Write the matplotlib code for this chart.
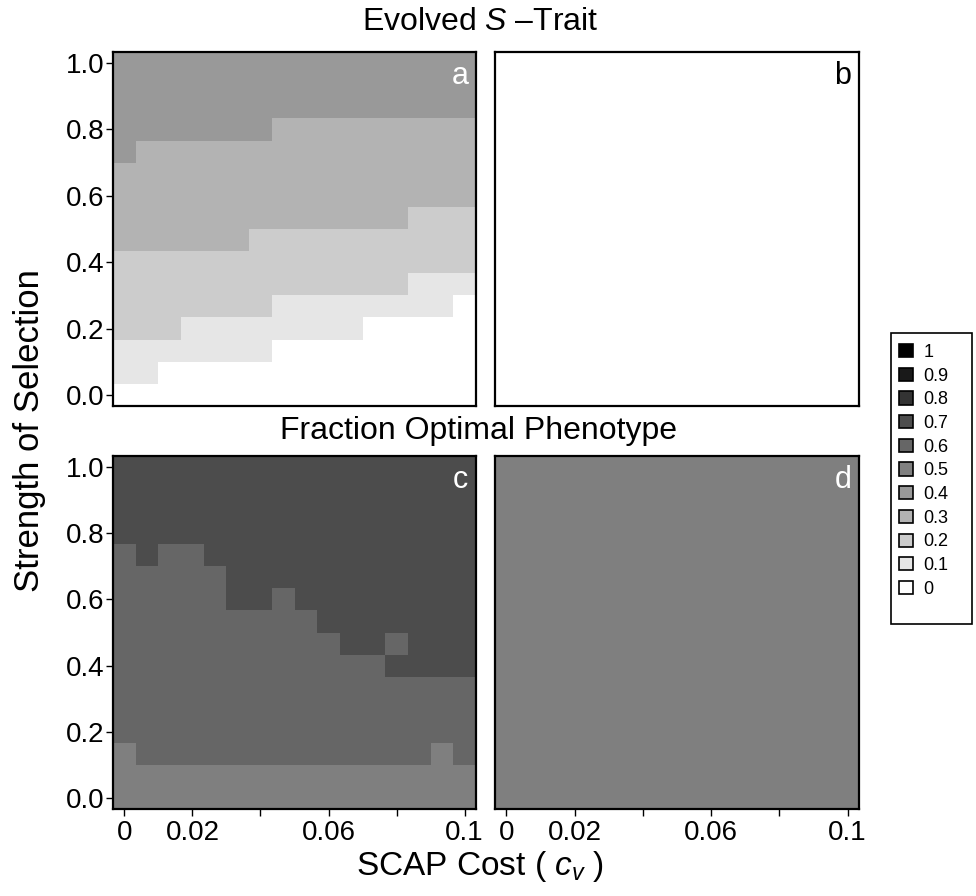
import numpy as np
import matplotlib
matplotlib.use("Agg")
import matplotlib.pyplot as plt
from matplotlib.patches import Patch, Rectangle

plt.rcParams['font.family'] = ['Liberation Sans', 'DejaVu Sans']
plt.rcParams['mathtext.fontset'] = 'custom'
plt.rcParams['mathtext.rm'] = 'Liberation Sans'
plt.rcParams['mathtext.it'] = 'Liberation Sans:italic'

# grid of parameter values (cell centres)
cost_values = [0.0, 0.00667, 0.01333, 0.02, 0.02667, 0.03333, 0.04, 0.04667,
               0.05333, 0.06, 0.06667, 0.07333, 0.08, 0.08667, 0.09333, 0.1]
selection_values = [0.0, 0.0667, 0.1333, 0.2, 0.2667, 0.3333, 0.4, 0.4667,
                    0.5333, 0.6, 0.6667, 0.7333, 0.8, 0.8667, 0.9333, 1.0]

# rows listed from top (selection = 1.0) to bottom (selection = 0.0)
panel_a_rows = [
    [.4, .4, .4, .4, .4, .4, .4, .4, .4, .4, .4, .4, .4, .4, .4, .4],
    [.4, .4, .4, .4, .4, .4, .4, .4, .4, .4, .4, .4, .4, .4, .4, .4],
    [.4, .4, .4, .4, .4, .4, .4, .4, .4, .4, .4, .4, .4, .4, .4, .4],
    [.4, .4, .4, .4, .4, .4, .4, .3, .3, .3, .3, .3, .3, .3, .3, .3],
    [.4, .3, .3, .3, .3, .3, .3, .3, .3, .3, .3, .3, .3, .3, .3, .3],
    [.3, .3, .3, .3, .3, .3, .3, .3, .3, .3, .3, .3, .3, .3, .3, .3],
    [.3, .3, .3, .3, .3, .3, .3, .3, .3, .3, .3, .3, .3, .3, .3, .3],
    [.3, .3, .3, .3, .3, .3, .3, .3, .3, .3, .3, .3, .3, .2, .2, .2],
    [.3, .3, .3, .3, .3, .3, .2, .2, .2, .2, .2, .2, .2, .2, .2, .2],
    [.2, .2, .2, .2, .2, .2, .2, .2, .2, .2, .2, .2, .2, .2, .2, .2],
    [.2, .2, .2, .2, .2, .2, .2, .2, .2, .2, .2, .2, .2, .1, .1, .1],
    [.2, .2, .2, .2, .2, .2, .2, .1, .1, .1, .1, .1, .1, .1, .1, 0],
    [.2, .2, .2, .1, .1, .1, .1, .1, .1, .1, .1, 0, 0, 0, 0, 0],
    [.1, .1, .1, .1, .1, .1, .1, 0, 0, 0, 0, 0, 0, 0, 0, 0],
    [.1, .1, 0, 0, 0, 0, 0, 0, 0, 0, 0, 0, 0, 0, 0, 0],
    [0, 0, 0, 0, 0, 0, 0, 0, 0, 0, 0, 0, 0, 0, 0, 0],
]
panel_b_value = 0.0

panel_c_rows = [
    [.7, .7, .7, .7, .7, .7, .7, .7, .7, .7, .7, .7, .7, .7, .7, .7],
    [.7, .7, .7, .7, .7, .7, .7, .7, .7, .7, .7, .7, .7, .7, .7, .7],
    [.7, .7, .7, .7, .7, .7, .7, .7, .7, .7, .7, .7, .7, .7, .7, .7],
    [.7, .7, .7, .7, .7, .7, .7, .7, .7, .7, .7, .7, .7, .7, .7, .7],
    [.6, .7, .6, .6, .7, .7, .7, .7, .7, .7, .7, .7, .7, .7, .7, .7],
    [.6, .6, .6, .6, .6, .7, .7, .7, .7, .7, .7, .7, .7, .7, .7, .7],
    [.6, .6, .6, .6, .6, .7, .7, .6, .7, .7, .7, .7, .7, .7, .7, .7],
    [.6, .6, .6, .6, .6, .6, .6, .6, .6, .7, .7, .7, .7, .7, .7, .7],
    [.6, .6, .6, .6, .6, .6, .6, .6, .6, .6, .7, .7, .6, .7, .7, .7],
    [.6, .6, .6, .6, .6, .6, .6, .6, .6, .6, .6, .6, .7, .7, .7, .7],
    [.6, .6, .6, .6, .6, .6, .6, .6, .6, .6, .6, .6, .6, .6, .6, .6],
    [.6, .6, .6, .6, .6, .6, .6, .6, .6, .6, .6, .6, .6, .6, .6, .6],
    [.6, .6, .6, .6, .6, .6, .6, .6, .6, .6, .6, .6, .6, .6, .6, .6],
    [.5, .6, .6, .6, .6, .6, .6, .6, .6, .6, .6, .6, .6, .6, .5, .6],
    [.5, .5, .5, .5, .5, .5, .5, .5, .5, .5, .5, .5, .5, .5, .5, .5],
    [.5, .5, .5, .5, .5, .5, .5, .5, .5, .5, .5, .5, .5, .5, .5, .5],
]
panel_d_value = 0.5

legend_levels = [1, 0.9, 0.8, 0.7, 0.6, 0.5, 0.4, 0.3, 0.2, 0.1, 0]
legend_labels = ['1', '0.9', '0.8', '0.7', '0.6', '0.5', '0.4', '0.3', '0.2', '0.1', '0']

x_ticks = [0, 0.02, 0.04, 0.06, 0.08, 0.1]
x_ticklabels = ['0', '0.02', '', '0.06', '', '0.1']
y_ticks = [0.0, 0.2, 0.4, 0.6, 0.8, 1.0]
y_ticklabels = ['0.0', '0.2', '0.4', '0.6', '0.8', '1.0']

n_y = len(selection_values)
n_x = len(cost_values)
panels = {
    'a': np.flipud(np.array(panel_a_rows)),
    'b': np.full((n_y, n_x), panel_b_value),
    'c': np.flipud(np.array(panel_c_rows)),
    'd': np.full((n_y, n_x), panel_d_value),
}
letter_colors = {'a': 'white', 'b': 'black', 'c': 'white', 'd': 'white'}

fig = plt.figure(figsize=(9.76, 8.96), dpi=100)
W, H = 976, 896
boxes = {
    'a': (113, 52, 476, 406),
    'b': (495, 52, 859, 406),
    'c': (113, 456, 476, 809),
    'd': (495, 456, 859, 809),
}

for key, (x0, y0, x1, y1) in boxes.items():
    ax = fig.add_axes([x0 / W, 1 - y1 / H, (x1 - x0) / W, (y1 - y0) / H])
    ax.pcolormesh(cost_values, selection_values, panels[key], cmap='gray_r',
                  vmin=0, vmax=1, shading='nearest')
    ax.set_xlim(-0.1 / 30, 0.1 + 0.1 / 30)
    ax.set_ylim(-1 / 30, 1 + 1 / 30)
    for s in ax.spines.values():
        s.set_linewidth(1.6)
    ax.tick_params(direction='out', length=5, width=1, labelsize=20, pad=1)
    if key in ('c', 'd'):
        ax.set_xticks(x_ticks)
        ax.set_xticklabels(x_ticklabels)
        ax.tick_params(axis='x', pad=3)
    else:
        ax.set_xticks([])
    if key in ('a', 'c'):
        ax.set_yticks(y_ticks)
        ax.set_yticklabels(y_ticklabels)
    else:
        ax.set_yticks([])
    ax.text(0.956, 0.932, key, transform=ax.transAxes, ha='center', va='center',
            fontsize=22, color=letter_colors[key])

fig.text(480 / W, 1 - 22 / H, 'Evolved $S$ \u2013Trait', ha='center', va='center', fontsize=23)
fig.text(478 / W, 1 - 431 / H, 'Fraction Optimal Phenotype', ha='center', va='center', fontsize=23)
fig.text(480 / W, 1 - 866 / H, 'SCAP Cost ( $c_v$ )', ha='center', va='center', fontsize=24)
fig.text(30 / W, 1 - 431 / H, 'Strength of Selection', ha='center', va='center',
         rotation=90, fontsize=25)

handles = [Patch(facecolor=(1 - v, 1 - v, 1 - v), edgecolor='black', linewidth=1.2)
           for v in legend_levels]
leg = fig.legend(handles, legend_labels, loc='upper left',
                 bbox_to_anchor=(899 / W, 1 - 344 / H), fontsize=13,
                 handlelength=0.75, handleheight=0.75, handletextpad=0.6,
                 labelspacing=0.37, borderpad=0, borderaxespad=0,
                 frameon=False)
fig.add_artist(Rectangle((891 / W, 1 - 624 / H), 81 / W, 291 / H,
                         transform=fig.transFigure, fill=False,
                         edgecolor='black', linewidth=1.2))

fig.savefig('out.png', dpi=100)
